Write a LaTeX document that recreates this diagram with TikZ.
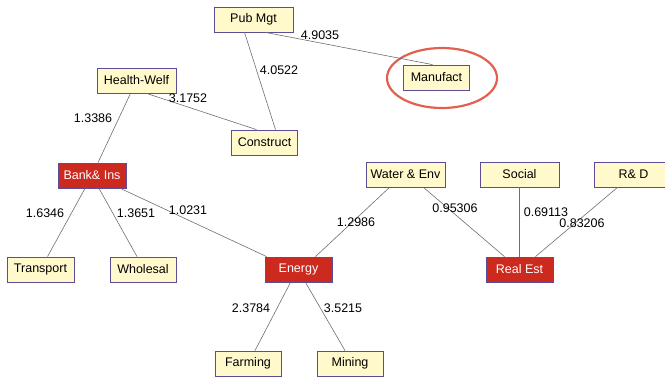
\documentclass[tikz,border=0pt]{standalone}
\usepackage{fontspec}
\setmainfont{Liberation Sans}
\usetikzlibrary{shapes.geometric}
\definecolor{boxfill}{RGB}{255,249,204}
\definecolor{boxline}{RGB}{92,78,150}
\definecolor{redfill}{RGB}{204,42,30}
\definecolor{ringcol}{RGB}{226,96,80}
\definecolor{edgecol}{RGB}{110,110,110}
\begin{document}
\begin{tikzpicture}[x=1pt,y=-1pt,
  box/.style={draw=boxline,line width=0.8pt,fill=boxfill,minimum width=79pt,minimum height=25pt,inner sep=0pt,font=\fontsize{12.5}{14}\selectfont},
  sbox/.style={box,minimum width=66pt},
  hot/.style={fill=redfill,text=white},
  edge/.style={draw=edgecol,line width=0.6pt},
  lab/.style={font=\fontsize{12.5}{14}\selectfont,inner sep=0pt}]
\useasboundingbox (0,0) rectangle (665,378);
\clip (0,0) rectangle (665,378);
% nodes
\node[box]  (pm) at (253.5,19.5) {Pub Mgt};
\node[sbox] (mf) at (436.5,77.5) {Manufact};
\node[box]  (hw) at (136.5,80.5) {Health-Welf};
\node[sbox] (co) at (264.5,142.5) {Construct};
\node[sbox,minimum width=68pt,hot] (bi) at (92,175.5) {Bank\& Ins};
\node[sbox,minimum width=67pt] (tr) at (40.5,269.5) {Transport};
\node[sbox] (wh) at (143,269.5) {Wholesal};
\node[sbox,minimum width=67pt,hot] (en) at (298.5,269.5) {Energy};
\node[box]  (we) at (405.5,174.5) {Water \& Env};
\node[box]  (so) at (519.5,174.5) {Social};
\node[box]  (rd) at (633.5,174.5) {R\& D};
\node[sbox,minimum width=67pt,hot] (re) at (519.5,269.5) {Real Est};
\node[sbox] (fa) at (248,363.5) {Farming};
\node[sbox] (mi) at (350,363.5) {Mining};
% highlight ring
\node[draw=ringcol,line width=2.2pt,ellipse,minimum width=110pt,minimum height=60pt,inner sep=0pt] (ring) at (442,78) {};
% edges
\path[edge] ([xshift=-9pt]pm.south) -- ([xshift=11pt]co.north);
\path[edge] ([xshift=12pt]pm.south) -- ([xshift=-4pt]mf.north);
\path[edge] ([xshift=10pt]hw.south) -- ([xshift=-8pt]co.north);
\path[edge] ([xshift=-6pt]hw.south) -- ([xshift=6pt]bi.north);
\path[edge] ([xshift=-7pt]bi.south) -- ([xshift=7pt]tr.north);
\path[edge] ([xshift=7pt]bi.south) -- ([xshift=-6pt]wh.north);
\path[edge] ([xshift=-6pt]bi.south east) -- ([xshift=2pt]en.north west);
\path[edge] ([xshift=17pt]en.north) -- ([xshift=-16pt]we.south);
\path[edge] ([xshift=-8pt]en.south) -- ([xshift=7pt]fa.north);
\path[edge] ([xshift=7pt]en.south) -- ([xshift=-5pt]mi.north);
\path[edge] ([xshift=18pt]we.south) -- ([xshift=-15pt]re.north);
\path[edge] (so.south) -- (re.north);
\path[edge] ([xshift=-16pt]rd.south) -- ([xshift=16pt]re.north);
% labels
\node[lab] (l1) at (320,35) {4.9035};
\node[lab] (l2) at (279,70) {4.0522};
\node[lab] (l3) at (188,98) {3.1752};
\node[lab] (l4) at (93,118) {1.3386};
\node[lab] (l5) at (45,213) {1.6346};
\node[lab] (l6) at (136,213) {1.3651};
\node[lab] (l7) at (188,210) {1.0231};
\node[lab] (l8) at (356,222) {1.2986};
\node[lab] (l9) at (455,208) {0.95306};
\node[lab] (l10) at (546,212) {0.69113};
\node[lab] (l11) at (582,223) {0.83206};
\node[lab] (l12) at (251,308) {2.3784};
\node[lab] (l13) at (343,308) {3.5215};
\end{tikzpicture}
\end{document}
